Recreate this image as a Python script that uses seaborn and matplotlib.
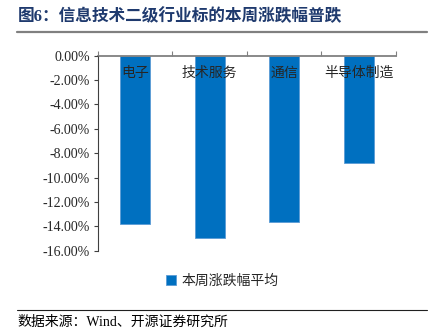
import matplotlib
matplotlib.use("Agg")
import matplotlib.pyplot as plt
import seaborn as sns
import pandas as pd
import numpy as np
from matplotlib.lines import Line2D
from matplotlib.ticker import FuncFormatter, FixedLocator

sns.set_style("white")
plt.rcParams['font.family'] = ['Liberation Serif', 'Noto Sans CJK SC']
plt.rcParams['axes.unicode_minus'] = False

categories = ["电子", "技术服务", "通信", "半导体制造"]
values = [-13.80, -14.98, -13.64, -8.78]
series_name = "本周涨跌幅平均"
title = "图6：信息技术二级行业标的本周涨跌幅普跌"
source = "数据来源：Wind、开源证券研究所"
yticks = [0, -2, -4, -6, -8, -10, -12, -14, -16]

W, H = 431, 330
fig = plt.figure(figsize=(W / 100, H / 100), dpi=100)
ax = fig.add_axes([98 / W, 1 - 250.7 / H, (396 - 98) / W, (250.7 - 55.7) / H])

df = pd.DataFrame({"cat": categories, "val": values})
sns.barplot(data=df, x="cat", y="val", color="#0070C0", saturation=1,
            width=0.4, label=series_name, ax=ax, edgecolor="#5B9BD5", linewidth=0.6)
handles, labels = ax.get_legend_handles_labels()
if ax.get_legend() is not None:
    ax.get_legend().remove()

ax.set_axisbelow(False)
ax.set_ylim(-16, 0)
ax.set_xlim(-0.5, len(categories) - 0.5)
ax.set_xlabel("")
ax.set_ylabel("")

# y axis
ax.yaxis.set_major_locator(FixedLocator(yticks))
ax.yaxis.set_major_formatter(FuncFormatter(lambda v, p: f"{v:.2f}%"))
ax.tick_params(axis="y", which="major", direction="out", length=3, width=0.8,
               color="#404040", labelsize=10, pad=3, left=True)

# x axis: boundary ticks on top, category labels inside plot
ax.xaxis.set_major_locator(FixedLocator(np.arange(-0.5, len(categories), 1.0)))
ax.xaxis.set_minor_locator(FixedLocator(np.arange(len(categories))))
ax.xaxis.set_major_formatter(FuncFormatter(lambda v, p: ""))
ax.xaxis.set_minor_formatter(FuncFormatter(lambda v, p: categories[int(round(v))]))
ax.tick_params(axis="x", which="major", direction="out", length=3.5, width=0.8,
               color="#808080", top=True, bottom=False, labeltop=False, labelbottom=False)
ax.tick_params(axis="x", which="minor", length=0, top=True, bottom=False,
               labeltop=True, labelbottom=False, labelsize=10, pad=-17.5)

for s in ["right", "bottom"]:
    ax.spines[s].set_visible(False)
ax.spines["top"].set_color("#808080")
ax.spines["top"].set_linewidth(1.3)
ax.spines["left"].set_color("#404040")
ax.spines["left"].set_linewidth(0.8)

# legend
fig.legend(handles[:1], labels[:1], loc="center", bbox_to_anchor=(222 / W, 1 - 281 / H),
           frameon=False, fontsize=10, handlelength=0.7, handleheight=0.7,
           handletextpad=0.4)

# title & decorations
fig.text(18 / W, 1 - 17 / H, title, fontsize=12, fontweight="bold", color="#1F3A6E",
         ha="left", va="center")
fig.add_artist(Line2D([17 / W, 427 / W], [1 - 31.5 / H] * 2, color="#808080", linewidth=1.6))
fig.add_artist(Line2D([17 / W, 427 / W], [1 - 309.5 / H] * 2, color="#202020", linewidth=0.8))
fig.text(17 / W, 1 - 322 / H, source, fontsize=10, color="#000000", ha="left", va="center")

fig.savefig("out.png", dpi=100)
